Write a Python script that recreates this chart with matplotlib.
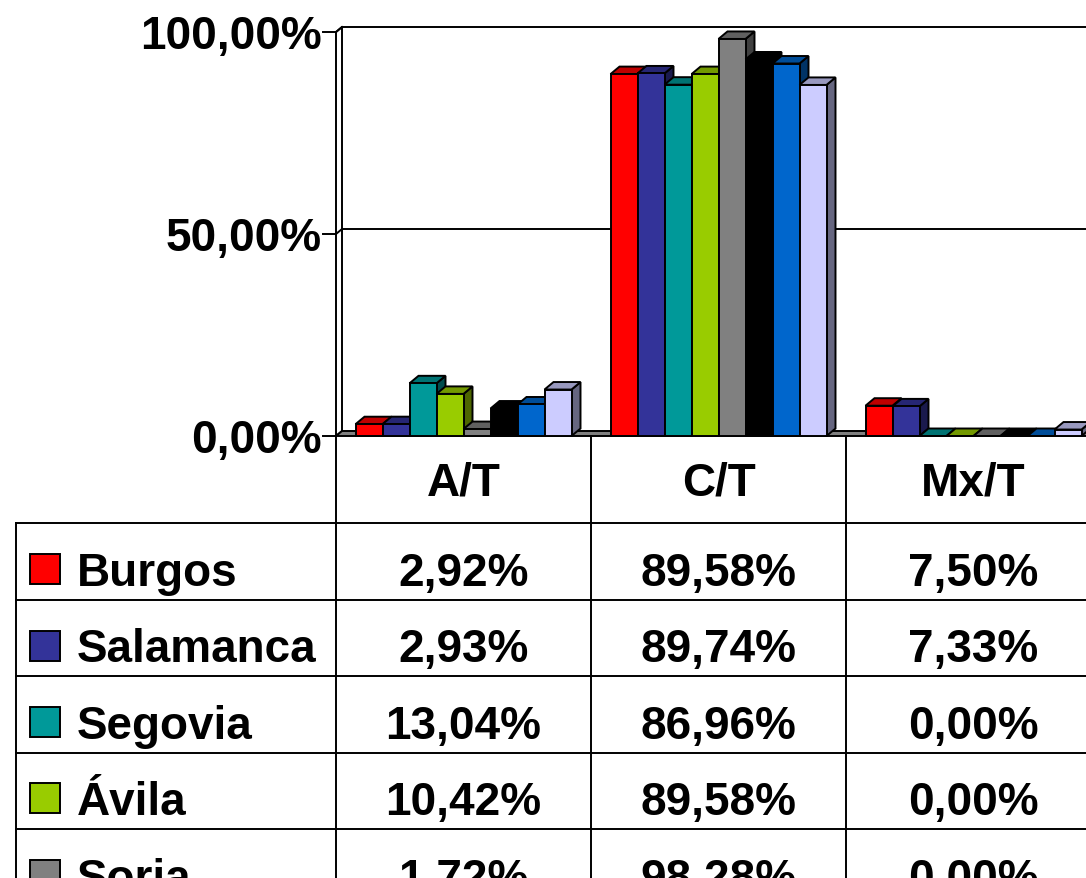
import matplotlib.pyplot as plt
import matplotlib.colors as mcolors
from matplotlib.patches import Polygon, Rectangle
import numpy as np

# Data
categories = ['A/T', 'C/T', 'Mx/T']
provinces = ['Burgos', 'Salamanca', 'Segovia', 'Ávila', 'Soria']
colors = ['#FF0000', '#333399', '#009999', '#99CC00',
          '#808080', '#000000', '#0066CC', '#CCCCFF']
at_vals = [2.92, 2.93, 13.04, 10.42, 1.72, 6.8, 7.8, 11.5]
ct_vals = [89.58, 89.74, 86.96, 89.58, 98.28, 93.2, 92.2, 86.9]
mx_vals = [7.50, 7.33, 0.00, 0.00, 0.00, 0.0, 0.0, 1.6]
yticks = [0, 50, 100]

plt.rcParams['font.family'] = ['Liberation Sans', 'DejaVu Sans']
FS = 33
LW = 1.4

W, H = 1086, 879
fig = plt.figure(figsize=(W / 100, H / 100), dpi=100)

# layout (pixels)
x0_px = 336      # left edge of plot / first value column
y0_px = 437      # 0% level
cat_px = 255     # width of one category
pct_px = 4.04    # pixels per percent

ax = fig.add_axes([x0_px / W, (H - y0_px) / H, (W - x0_px) / W, y0_px / H])
xmax = (W - x0_px) / cat_px
ax.set_xlim(0, xmax)
ax.set_ylim(0, y0_px / pct_px)
ax.axis('off')

# depth offsets
wdx, wdy = 6 / cat_px, 5 / pct_px      # walls / floor
bdx, bdy = 9 / cat_px, 7.5 / pct_px    # bars


def shade(c, f):
    r, g, b = mcolors.to_rgb(c)
    return (r * f, g * f, b * f)


# left wall
ax.add_patch(Polygon([(0, 0), (0, 100), (wdx, 100 + wdy), (wdx, wdy)],
                     closed=True, fc='white', ec='black', lw=LW, clip_on=False, zorder=1))
# floor
ax.add_patch(Polygon([(0, 0), (xmax + 1, 0), (xmax + 1, wdy), (wdx, wdy)],
                     closed=True, fc='#808080', ec='black', lw=LW, clip_on=False, zorder=1))

# gridlines, ticks, labels
for v in yticks:
    if v > 0:
        ax.plot([wdx, xmax + 1], [v + wdy, v + wdy], color='black', lw=LW,
                clip_on=False, zorder=1.5)
        ax.plot([0, wdx], [v, v + wdy], color='black', lw=LW, clip_on=False, zorder=1.5)
    ax.plot([-13 / cat_px, 0], [v, v], color='black', lw=LW, clip_on=False)
    lab = f"{v:.2f}%".replace('.', ',')
    ax.text(-14 / cat_px, v - 16 / pct_px, lab, ha='right', va='baseline',
            fontsize=FS, fontweight='bold', clip_on=False)

# 3D bars
values = np.array([at_vals, ct_vals, mx_vals])
n = values.shape[1]
bw = 27 / cat_px
pad = (1 - n * bw) / 2
for i in range(len(categories)):
    for j in range(n):
        v = values[i, j]
        x = i + pad + j * bw
        c = colors[j]
        side = [(x + bw, 0), (x + bw + bdx, bdy), (x + bw + bdx, v + bdy), (x + bw, v)]
        top = [(x, v), (x + bw, v), (x + bw + bdx, v + bdy), (x + bdx, v + bdy)]
        ax.add_patch(Polygon(side, closed=True, fc=shade(c, 0.5), ec='black',
                             lw=LW, clip_on=False, zorder=3))
        ax.add_patch(Polygon(top, closed=True, fc=shade(c, 0.75), ec='black',
                             lw=LW, clip_on=False, zorder=3))
        ax.add_patch(Rectangle((x, 0), bw, v, fc=c, ec='black', lw=LW,
                               clip_on=False, zorder=3))

# data table (pixel overlay)
ov = fig.add_axes([0, 0, 1, 1])
ov.set_xlim(0, W)
ov.set_ylim(H, 0)
ov.axis('off')
ov.patch.set_visible(False)

table_left = 16
header_bottom = 524
row_h = 76.5
col_x = [x0_px + k * cat_px for k in range(len(categories) + 1)]

for k, cat in enumerate(categories):
    ov.text((col_x[k] + col_x[k + 1]) / 2, 496, cat, ha='center', va='baseline',
            fontsize=FS, fontweight='bold')

for r, name in enumerate(provinces):
    top = header_bottom + r * row_h
    ov.add_patch(Rectangle((30, top + 31), 30, 30, fc=colors[r], ec='black', lw=LW))
    ov.text(77, top + 62, name, ha='left', va='baseline', fontsize=FS, fontweight='bold')
    for k in range(len(categories)):
        txt = f"{values[k, r]:.2f}%".replace('.', ',')
        ov.text((col_x[k] + col_x[k + 1]) / 2, top + 62, txt, ha='center',
                va='baseline', fontsize=FS, fontweight='bold')
    ov.plot([table_left, W], [top, top], color='black', lw=LW)

ov.plot([table_left, table_left], [header_bottom, H], color='black', lw=LW)
for cx in col_x:
    ov.plot([cx, cx], [y0_px, H], color='black', lw=LW)

fig.savefig('out.png', dpi=100)
